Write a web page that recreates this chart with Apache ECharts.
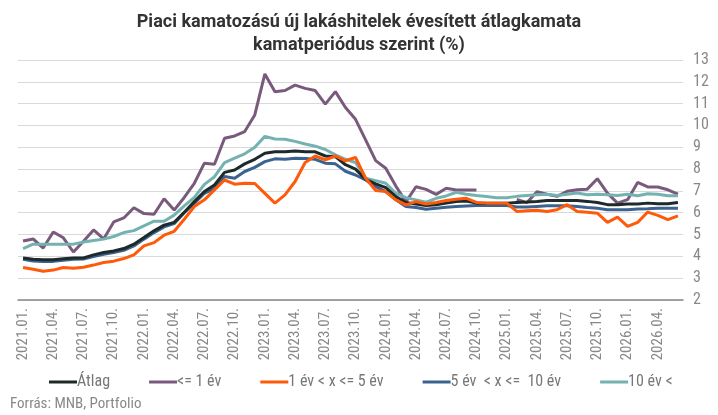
<!DOCTYPE html>
<html>
<head>
<meta charset="utf-8">
<script src="https://cdn.jsdelivr.net/npm/echarts@6/dist/echarts.min.js"></script>
<style>
  html, body { margin: 0; padding: 0; background: #fff; }
  #chart { width: 718px; height: 415px; }
</style>
</head>
<body>
<div id="chart"></div>
<script>
// havi adatok, 2021.01. - 2026.06.
var months = [
  '2021.01.', '2021.02.', '2021.03.', '2021.04.', '2021.05.', '2021.06.', '2021.07.', '2021.08.', '2021.09.', '2021.10.', '2021.11.', '2021.12.',
  '2022.01.', '2022.02.', '2022.03.', '2022.04.', '2022.05.', '2022.06.', '2022.07.', '2022.08.', '2022.09.', '2022.10.', '2022.11.', '2022.12.',
  '2023.01.', '2023.02.', '2023.03.', '2023.04.', '2023.05.', '2023.06.', '2023.07.', '2023.08.', '2023.09.', '2023.10.', '2023.11.', '2023.12.',
  '2024.01.', '2024.02.', '2024.03.', '2024.04.', '2024.05.', '2024.06.', '2024.07.', '2024.08.', '2024.09.', '2024.10.', '2024.11.', '2024.12.',
  '2025.01.', '2025.02.', '2025.03.', '2025.04.', '2025.05.', '2025.06.', '2025.07.', '2025.08.', '2025.09.', '2025.10.', '2025.11.', '2025.12.',
  '2026.01.', '2026.02.', '2026.03.', '2026.04.', '2026.05.', '2026.06.'
];

var atlag = [
  3.92, 3.87, 3.85, 3.85, 3.89, 3.92, 3.93, 4.07, 4.18, 4.25, 4.36, 4.56,
  4.86, 5.17, 5.43, 5.56, 6.02, 6.51, 6.97, 7.27, 7.85, 7.96, 8.24, 8.45,
  8.73, 8.79, 8.80, 8.83, 8.79, 8.79, 8.60, 8.57, 8.20, 8.00, 7.53, 7.32,
  7.15, 6.74, 6.47, 6.40, 6.33, 6.37, 6.44, 6.51, 6.54, 6.44, 6.44, 6.44,
  6.44, 6.47, 6.49, 6.52, 6.56, 6.56, 6.56, 6.56, 6.52, 6.47, 6.37, 6.37,
  6.40, 6.40, 6.44, 6.41, 6.41, 6.47
];

var max1ev = [
  4.70, 4.80, 4.38, 5.12, 4.85, 4.20, 4.69, 5.21, 4.80, 5.58, 5.76, 6.23,
  5.96, 5.93, 6.64, 6.12, 6.70, 7.35, 8.27, 8.22, 9.41, 9.52, 9.72, 10.48,
  12.36, 11.55, 11.60, 11.85, 11.70, 11.60, 10.98, 11.55, 10.82, 10.28, 9.34, 8.39,
  8.04, 7.22, 6.50, 7.19, 7.07, 6.84, 7.12, 7.04, 7.04, 7.04, null, null,
  null, 6.61, 6.46, 6.96, 6.85, 6.75, 6.98, 7.05, 7.08, 7.56, 6.90, 6.44,
  6.60, 7.39, 7.18, 7.18, 7.05, 6.85
];

var ev1_5 = [
  3.49, 3.41, 3.32, 3.37, 3.49, 3.46, 3.50, 3.60, 3.72, 3.78, 3.90, 4.07,
  4.48, 4.63, 4.97, 5.15, 5.70, 6.28, 6.59, 7.05, 7.50, 7.31, 7.35, 7.34,
  6.89, 6.44, 6.82, 7.43, 8.30, 8.60, 8.42, 8.60, 8.38, 8.53, 7.58, 7.02,
  6.97, 6.59, 6.36, 6.51, 6.40, 6.47, 6.56, 6.62, 6.66, 6.47, 6.44, 6.44,
  6.44, 6.06, 6.09, 6.11, 6.06, 6.14, 6.37, 6.06, 6.02, 5.98, 5.56, 5.80,
  5.37, 5.56, 6.03, 5.88, 5.68, 5.86
];

var ev5_10 = [
  3.87, 3.79, 3.76, 3.77, 3.82, 3.87, 3.88, 3.99, 4.10, 4.18, 4.28, 4.48,
  4.79, 5.09, 5.35, 5.50, 6.00, 6.43, 6.89, 7.12, 7.66, 7.58, 7.89, 8.08,
  8.34, 8.47, 8.45, 8.50, 8.48, 8.45, 8.27, 8.24, 7.90, 7.73, 7.50, 7.20,
  6.97, 6.59, 6.28, 6.24, 6.16, 6.21, 6.25, 6.28, 6.31, 6.33, 6.33, 6.33,
  6.33, 6.26, 6.26, 6.29, 6.32, 6.32, 6.32, 6.29, 6.24, 6.21, 6.14, 6.14,
  6.14, 6.17, 6.18, 6.20, 6.21, 6.21
];

var ev10 = [
  4.36, 4.56, 4.56, 4.56, 4.56, 4.56, 4.66, 4.73, 4.79, 4.91, 5.09, 5.18,
  5.40, 5.61, 5.61, 5.89, 6.31, 6.70, 7.30, 7.65, 8.30, 8.50, 8.70, 9.00,
  9.50, 9.38, 9.37, 9.27, 9.15, 9.05, 8.90, 8.65, 8.45, 8.30, 7.58, 7.47,
  7.35, 6.89, 6.69, 6.59, 6.48, 6.66, 6.77, 6.94, 6.85, 6.79, 6.74, 6.69,
  6.69, 6.75, 6.79, 6.82, 6.85, 6.79, 6.85, 6.90, 6.82, 6.85, 6.82, 6.79,
  6.85, 6.78, 6.87, 6.85, 6.78, 6.78
];

var names = ['Átlag', '<= 1 év', '1 év < x <= 5 év', '5 év  < x <=  10 év', '10 év <'];
var colors = ['#1e2a2a', '#7a5a7c', '#ff5a0a', '#3b6290', '#74b1b1'];

var condensed = "'Roboto Condensed', 'Liberation Sans Narrow', Roboto, sans-serif";

function lineSeries(name, data, color, z) {
  return {
    name: name,
    type: 'line',
    data: data,
    symbol: 'none',
    connectNulls: false,
    z: z,
    lineStyle: { color: color, width: 3 },
    itemStyle: { color: color }
  };
}

var chart = echarts.init(document.getElementById('chart'), null, { renderer: 'canvas' });

var option = {
  animation: false,
  backgroundColor: '#fff',
  title: {
    text: 'Piaci kamatozású új lakáshitelek évesített átlagkamata\nkamatperiódus szerint (%)',
    left: 'center',
    top: 6,
    textStyle: {
      fontFamily: 'Roboto, sans-serif',
      fontSize: 18,
      fontWeight: 'bold',
      color: '#333',
      lineHeight: 23
    }
  },
  grid: { left: 18, right: 35, top: 60, bottom: 115 },
  legend: {
    data: names,
    left: 44,
    top: 369,
    icon: 'rect',
    itemWidth: 28,
    itemHeight: 3,
    itemGap: 39,
    textStyle: { color: '#777', fontSize: 16, fontFamily: condensed, padding: [0, 0, 0, -5] }
  },
  xAxis: {
    type: 'category',
    data: months,
    boundaryGap: true,
    axisLine: { lineStyle: { color: '#888', width: 1.5 } },
    axisTick: { show: false },
    axisLabel: {
      interval: 2,
      rotate: 90,
      margin: 8,
      color: '#888',
      fontSize: 15,
      fontFamily: condensed
    },
    splitLine: { show: false }
  },
  yAxis: {
    type: 'value',
    position: 'right',
    min: 2,
    max: 13,
    interval: 1,
    axisLine: { show: false },
    axisTick: { show: false },
    axisLabel: { color: '#888', fontSize: 16, margin: 10, fontFamily: condensed },
    splitLine: { lineStyle: { color: '#d9d9d9', width: 1.2 } }
  },
  graphic: [{
    type: 'text',
    left: 10,
    top: 397,
    style: {
      text: 'Forrás: MNB, Portfolio',
      fill: '#888',
      fontSize: 15,
      fontFamily: condensed
    }
  }],
  series: [
    lineSeries(names[1], max1ev, colors[1], 2),
    lineSeries(names[4], ev10, colors[4], 3),
    lineSeries(names[3], ev5_10, colors[3], 4),
    lineSeries(names[0], atlag, colors[0], 5),
    lineSeries(names[2], ev1_5, colors[2], 6)
  ]
};

chart.setOption(option);
</script>
</body>
</html>
